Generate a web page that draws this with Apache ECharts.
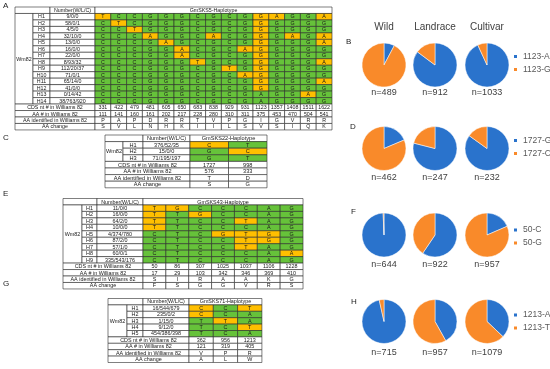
<!DOCTYPE html>
<html><head><meta charset="utf-8">
<script src="https://cdn.jsdelivr.net/npm/echarts@6/dist/echarts.min.js"></script>
<style>html,body{margin:0;padding:0;background:#fff}#c{width:550px;height:369px}</style>
</head><body><div id="c"></div>
<script>
// ---------- Table A : GmSKS5 ----------
const aTitle = 'GmSKS5-Haplotype';
const aHaps = ['H1','H2','H3','H4','H5','H6','H7','H8','H9','H10','H11','H12','H13','H14'];
const aCounts = ['9/0/0','58/0/1','4/5/0','32/10/0','13/0/0','16/0/0','22/0/0','8/93/32','112/20/37','71/0/1','65/14/0','41/0/0','0/14/42','38/763/920'];
const aAlleles = ['TCCGGGCGCGGAGGA','CTCGGGCGCGGGGGG','CCTGGGCGCGGGGGG','CCCAGGCACGGGAGA','CCCGAGCGCGGGGGA','CCCGGACGCAGGGGG','CCCGGACGCGGGGGG','CCCGGGTGCGGGGGA','CCCGGGCGTGGGGGG','CCCGGGCGCAGGGGG','CCCGGGCGCGGGGGA','CCCGGGCGCGGGGGG','CCCGGGCGCGAGGAG','CCCGGGCGCGAGGGG'];
const aCDS = ['331','422','479','481','605','650','683','838','929','931','1123','1357','1408','1511','1622'];
const aAAnum = ['111','141','160','161','202','217','228','280','310','311','375','453','470','504','541'];
const aAAid = ['P','A','P','D','R','R','T','V','P','G','I','G','V','R','R'];
const aAAchg = ['S','V','L','N','H','K','I','I','L','S','V','S','I','Q','K'];

// ---------- Table C : GmSKS22 ----------
const cTitle = 'GmSKS22-Haplotype';
const cHaps = ['H1','H2','H3'];
const cCounts = ['376/52/35','15/0/0','71/195/197'];
const cAlleles = ['CT','GC','GT'];
const cCDS = ['1727','998'];
const cAAnum = ['576','333'];
const cAAid = ['T','D'];
const cAAchg = ['S','G'];

// ---------- Table E : GmSKS43 ----------
const eTitle = 'GmSKS43-Haplotype';
const eHaps = ['H1','H2','H3','H4','H5','H6','H7','H8','H9'];
const eCounts = ['11/0/0','16/0/0','64/2/0','10/0/0','4/374/780','87/2/0','57/1/0','60/0/1','335/543/176'];
const eAlleles = ['TGCCCAG','TTGCCAG','TTCCTAG','TTCCCAG','CTCGTGG','CTCCTGG','CTCCTAG','CTCCCAA','CTCCCAG'];
const eCDS = ['50','86','307','1025','1037','1106','1228'];
const eAAnum = ['17','29','103','342','346','369','410'];
const eAAid = ['S','I','R','A','A','K','G'];
const eAAchg = ['F','S','G','G','V','R','S'];

// ---------- Table G : GmSKS71 ----------
const gTitle = 'GmSKS71-Haplotype';
const gHaps = ['H1','H2','H3','H4','H5'];
const gCounts = ['16/544/679','235/0/2','1/15/0','9/12/0','454/386/398'];
const gAlleles = ['CCT','CCA','TTA','TCT','TCA'];
const gCDS = ['362','956','1213'];
const gAAnum = ['121','319','405'];
const gAAid = ['V','P','R'];
const gAAchg = ['A','L','W'];

// ---------- Pie data (counts per allele) ----------
const groups = ['Wild','Landrace','Cultivar'];
const bNames = ['1123-A','1123-G'];
const bWild = [38,451], bLand = [777,135], bCult = [962,71];
const dNames = ['1727-G','1727-C'];
const dWild = [86,376], dLand = [195,52], dCult = [197,35];
const fNames = ['50-C','50-G'];
const fWild = [640,4], fLand = [548,374], fCult = [177,780];
const hNames = ['1213-A','1213-T'];
const hWild = [690,25], hLand = [401,556], hCult = [400,679];

// ---------- styling / layout ----------
const GREEN = '#66c23a', ORANGE = '#ffbf00', LINE = '#2a2a2a';
const BLUE_P = '#2a73cc', ORANGE_P = '#f98a2a';
const FONT = '"Liberation Sans", Arial, sans-serif';
const rowLabels = ['CDS nt # in Williams 82','AA # in Williams 82','AA identified in Williams 82','AA change'];

const tables = [
  {title:aTitle, haps:aHaps, counts:aCounts, alleles:aAlleles, rows:[aCDS,aAAnum,aAAid,aAAchg],
   left:15, top:7, colW:[18,17,45], alleleW:15.8, rowH:6.47, fs:5.3},
  {title:cTitle, haps:cHaps, counts:cCounts, alleles:cAlleles, rows:[cCDS,cAAnum,cAAid,cAAchg],
   left:105, top:135, colW:[18,20,47], alleleW:38.5, rowH:6.6, fs:5.6},
  {title:eTitle, haps:eHaps, counts:eCounts, alleles:eAlleles, rows:[eCDS,eAAnum,eAAid,eAAchg],
   left:63, top:198.5, colW:[19,15,46], alleleW:22.86, rowH:6.46, fs:5.4},
  {title:gTitle, haps:gHaps, counts:gCounts, alleles:gAlleles, rows:[gCDS,gAAnum,gAAid,gAAchg],
   left:108, top:298.5, colW:[19,16,46], alleleW:24.3, rowH:6.4, fs:5.4}
];

const grids = [], xAxes = [], yAxes = [], series = [];

tables.forEach(function(t, ti){
  const nA = t.alleles[0].length;
  const nH = t.haps.length;
  const nRows = 1 + nH + 4;
  const e0 = 0, e1 = t.colW[0], e2 = e1 + t.colW[1], e3 = e2 + t.colW[2];
  const W = e3 + nA * t.alleleW;
  const ref = t.alleles[nH - 1];
  const cells = [];
  const ax = function(j){ return e3 + j * t.alleleW; };
  cells.push({x0:e0, x1:e2, y0:0, y1:1, text:'', fill:'#fff'});
  cells.push({x0:e2, x1:e3, y0:0, y1:1, text:'Number(W/L/C)', fill:'#fff'});
  cells.push({x0:e3, x1:W, y0:0, y1:1, text:t.title, fill:'#fff'});
  cells.push({x0:e0, x1:e1, y0:1, y1:1 + nH, text:'Wm82', fill:'#fff'});
  t.haps.forEach(function(h, i){
    const r = 1 + i;
    cells.push({x0:e1, x1:e2, y0:r, y1:r + 1, text:h, fill:'#fff'});
    cells.push({x0:e2, x1:e3, y0:r, y1:r + 1, text:t.counts[i], fill:'#fff'});
    for (let j = 0; j < nA; j++) {
      const a = t.alleles[i][j];
      cells.push({x0:ax(j), x1:ax(j + 1), y0:r, y1:r + 1, text:a, fill:(a === ref[j] ? GREEN : ORANGE)});
    }
  });
  t.rows.forEach(function(arr, k){
    const r = 1 + nH + k;
    cells.push({x0:e0, x1:e3, y0:r, y1:r + 1, text:rowLabels[k], fill:'#fff'});
    arr.forEach(function(v, j){
      cells.push({x0:ax(j), x1:ax(j + 1), y0:r, y1:r + 1, text:v, fill:'#fff'});
    });
  });

  grids.push({left:t.left, top:t.top, width:W, height:nRows * t.rowH});
  xAxes.push({type:'value', gridIndex:ti, min:0, max:W, show:false});
  yAxes.push({type:'value', gridIndex:ti, min:0, max:nRows, inverse:true, show:false});
  series.push({
    type:'custom', xAxisIndex:ti, yAxisIndex:ti, clip:false, silent:true,
    data: cells.map(function(c){ return [c.x0, c.y0, c.x1, c.y1]; }),
    renderItem: function(params, api){
      const c = cells[params.dataIndex];
      const p0 = api.coord([c.x0, c.y0]);
      const p1 = api.coord([c.x1, c.y1]);
      return {type:'group', children:[
        {type:'rect', shape:{x:p0[0], y:p0[1], width:p1[0]-p0[0], height:p1[1]-p0[1]},
         style:{fill:c.fill, stroke:LINE, lineWidth:0.6}},
        {type:'text', style:{x:(p0[0]+p1[0])/2, y:(p0[1]+p1[1])/2 + 0.3, text:c.text, fill:'#1a1a1a',
          fontSize:t.fs, fontFamily:FONT, align:'center', verticalAlign:'middle'}}
      ]};
    }
  });
});

// ---------- pies ----------
const pieX = [384, 435, 487];
const pieSets = [
  {names:bNames, vals:[bWild,bLand,bCult], cy:65, ny:93, legTop:51.5},
  {names:dNames, vals:[dWild,dLand,dCult], cy:148.5, ny:178, legTop:135.5},
  {names:fNames, vals:[fWild,fLand,fCult], cy:235, ny:265, legTop:225},
  {names:hNames, vals:[hWild,hLand,hCult], cy:321.5, ny:353, legTop:310}
];
const legends = [];
const graphics = [];
pieSets.forEach(function(ps){
  ps.vals.forEach(function(v, gi){
    series.push({
      type:'pie', center:[pieX[gi], ps.cy], radius:22, silent:true,
      label:{show:false}, labelLine:{show:false}, startAngle:90, clockwise:true,
      itemStyle:{borderColor:'#fff', borderWidth:0.5},
      data:[{name:ps.names[0], value:v[0], itemStyle:{color:BLUE_P}},
            {name:ps.names[1], value:v[1], itemStyle:{color:ORANGE_P}}]
    });
    graphics.push({type:'text', x:pieX[gi], y:ps.ny,
      style:{text:'n=' + (v[0] + v[1]), fontSize:9, fill:'#404040', fontFamily:FONT, align:'center', verticalAlign:'middle'}});
  });
  legends.push({data:ps.names, orient:'vertical', left:512, top:ps.legTop, icon:'rect',
    padding:0, width:38, itemWidth:5, itemHeight:5, itemGap:3, selectedMode:false,
    textStyle:{fontSize:8.5, color:'#595959', fontFamily:FONT, lineHeight:10}});
});
groups.forEach(function(g, gi){
  graphics.push({type:'text', x:pieX[gi], y:27,
    style:{text:g, fontSize:10, fill:'#404040', fontFamily:FONT, align:'center', verticalAlign:'middle'}});
});
[['A',3,2],['C',3,134],['E',3,190],['G',3,280],['B',346,38],['D',350,123],['F',351,208],['H',351,298]].forEach(function(p){
  graphics.push({type:'text', x:p[1], y:p[2], style:{text:p[0], fontSize:8, fill:'#222', fontFamily:FONT}});
});

const chart = echarts.init(document.getElementById('c'), null, {renderer:'canvas'});
chart.setOption({
  animation:false,
  backgroundColor:'#fff',
  grid:grids, xAxis:xAxes, yAxis:yAxes,
  legend:legends,
  graphic:graphics,
  series:series
});
</script>
</body></html>
